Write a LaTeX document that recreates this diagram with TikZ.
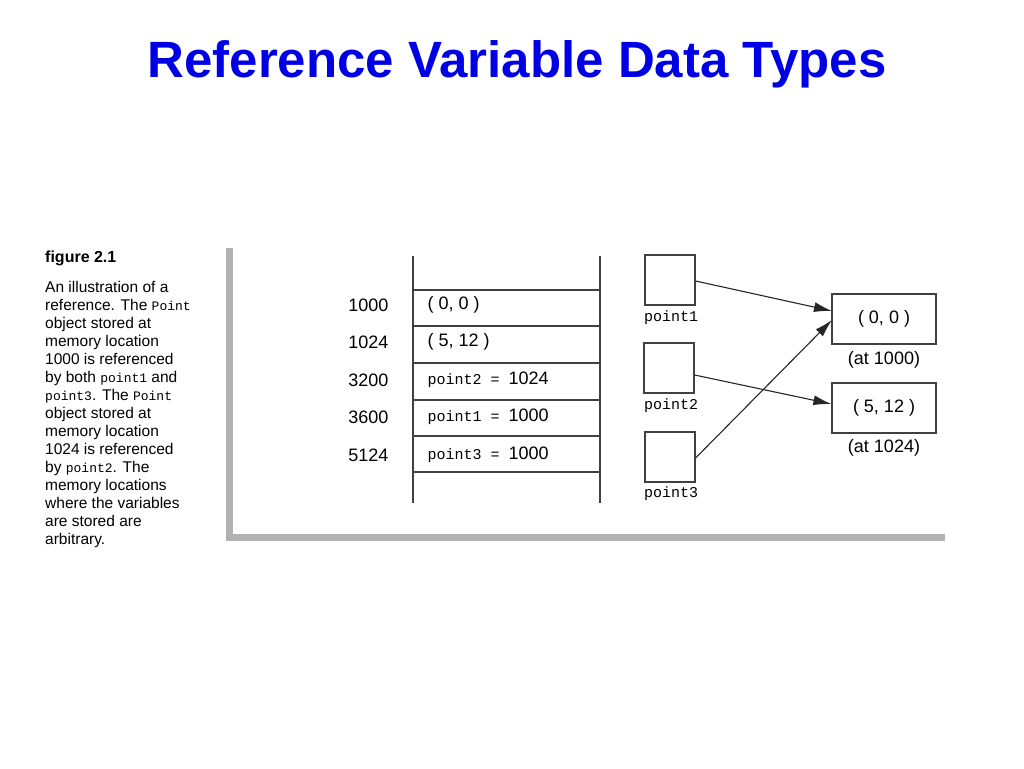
\documentclass[tikz,border=0pt]{standalone}
\usepackage{fontspec}
\setmainfont{Liberation Sans}
\setmonofont{Liberation Mono}
\usetikzlibrary{arrows.meta}
\begin{document}
\begin{tikzpicture}[x=1pt,y=-1pt,
  cell/.style={draw=black!75,line width=1.2pt},
  addr/.style={anchor=east,font=\fontsize{18}{18}\selectfont},
  cont/.style={anchor=west,font=\fontsize{18}{18}\selectfont},
  var/.style={draw=black!75,line width=1.2pt,minimum width=50pt,minimum height=50pt,inner sep=0pt},
  obj/.style={draw=black!75,line width=1.2pt,minimum width=104pt,minimum height=50pt,font=\fontsize{18}{18}\selectfont},
  lbl/.style={font=\ttfamily\fontsize{15}{15}\selectfont,anchor=north west,inner sep=0pt},
  atlbl/.style={font=\fontsize{18}{18}\selectfont},
  arr/.style={-{Latex[length=18pt,width=10pt]},line width=1.1pt,black!85}]
\useasboundingbox (0,0) rectangle (1024,768);
\fill[white] (0,0) rectangle (1024,768);
\node[font=\bfseries\fontsize{51}{51}\selectfont,text=blue!90!black] (title) at (517,64) {Reference Variable Data Types};
\draw[black!30,line width=7pt] (229,248) -- (229,537) -- (945,537);
\node[anchor=west,inner sep=0pt,font=\bfseries\fontsize{16}{16}\selectfont] (fig) at (45,258) {figure 2.1};
\node[anchor=north west,inner sep=0pt,align=left,font=\fontsize{15.5}{18}\selectfont] (cap) at (45,281) {An illustration of a\\reference. The {\ttfamily\fontsize{13}{18}\selectfont Point}\\object stored at\\memory location\\1000 is referenced\\by both {\ttfamily\fontsize{13}{18}\selectfont point1} and\\{\ttfamily\fontsize{13}{18}\selectfont point3}. The {\ttfamily\fontsize{13}{18}\selectfont Point}\\object stored at\\memory location\\1024 is referenced\\by {\ttfamily\fontsize{13}{18}\selectfont point2}. The\\memory locations\\where the variables\\are stored are\\arbitrary.};
% memory
\draw[cell] (413,256) -- (413,503);
\draw[cell] (600,256) -- (600,503);
\foreach \y in {290,326,363,400,436,472} \draw[cell] (413,\y) -- (600,\y);
\node[addr] (a1) at (392,305) {1000};
\node[addr] (a2) at (392,342) {1024};
\node[addr] (a3) at (392,380) {3200};
\node[addr] (a4) at (392,417) {3600};
\node[addr] (a5) at (392,455) {5124};
\node[cont] (c1) at (424,305) {( 0, 0 )};
\node[cont] (c2) at (424,342) {( 5, 12 )};
\node[cont] (c3) at (424,380) {{\ttfamily\fontsize{15}{15}\selectfont point2 = }1024};
\node[cont] (c4) at (424,417) {{\ttfamily\fontsize{15}{15}\selectfont point1 = }1000};
\node[cont] (c5) at (424,455) {{\ttfamily\fontsize{15}{15}\selectfont point3 = }1000};
% variables
\node[var] (p1) at (670,280) {};
\node[var] (p2) at (669,368) {};
\node[var] (p3) at (670,457) {};
\node[lbl] (l1) at (644,310) {point1};
\node[lbl] (l2) at (644,398) {point2};
\node[lbl] (l3) at (644,486) {point3};
\node[obj] (o1) at (884,319) {( 0, 0 )};
\node[obj] (o2) at (884,408) {( 5, 12 )};
\node[atlbl] (t1) at (884,360) {(at 1000)};
\node[atlbl] (t2) at (884,448) {(at 1024)};
\coordinate (e1) at (832,311);
\coordinate (e3) at (832,320);
\draw[arr] (p1.east |- 0,281) -- (e1);
\draw[arr] (p2.east |- 0,375) -- (o2.west |- 0,404);
\draw[arr] (p3.east |- 0,458) -- (e3);
\end{tikzpicture}
\end{document}
